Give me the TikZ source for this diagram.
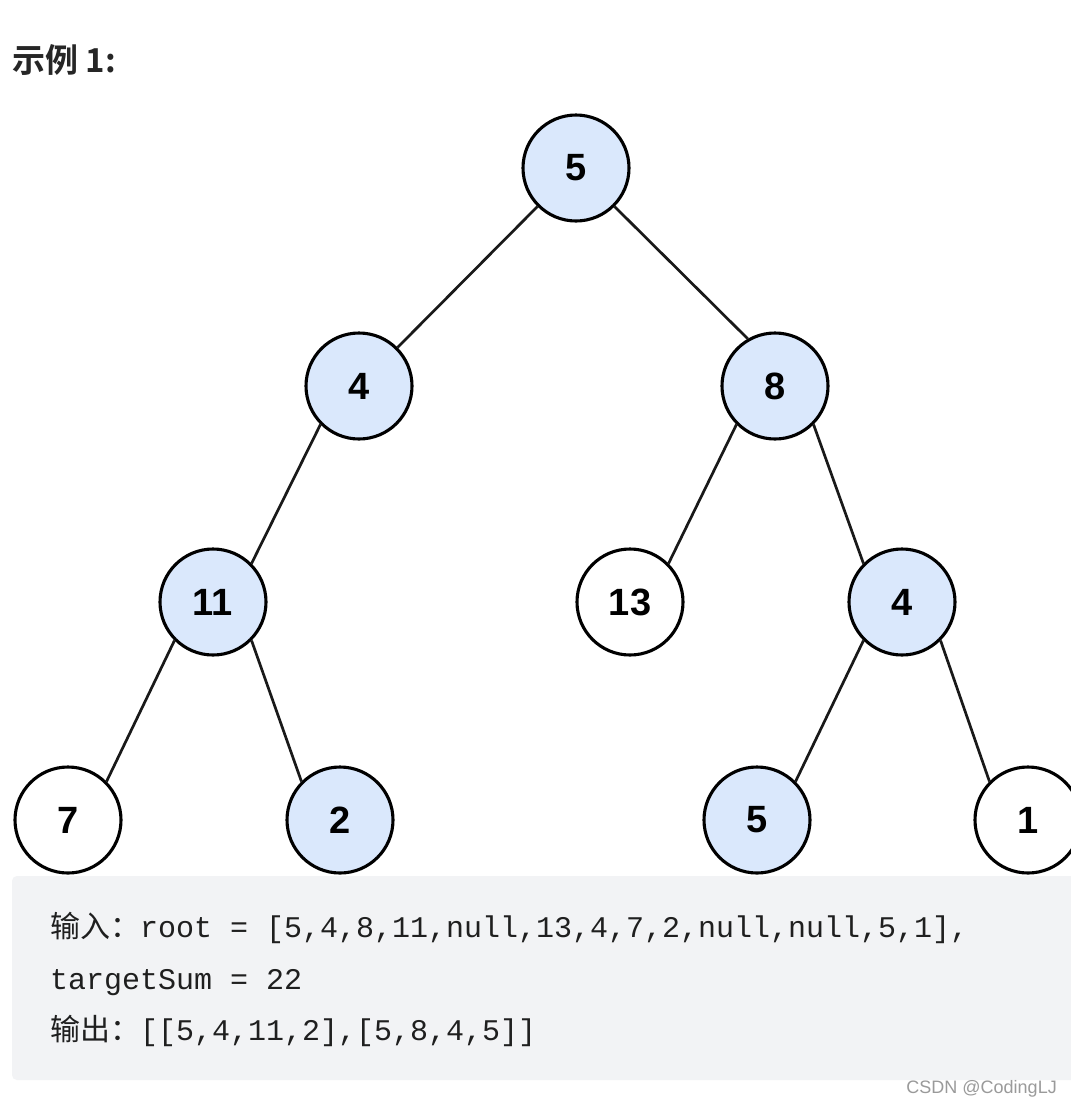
\documentclass[tikz,border=0pt]{standalone}
\usepackage{fontspec}
\setmainfont{Liberation Sans}
\newfontfamily\cjk{Noto Sans CJK SC}
\newfontfamily\cjkb{Noto Sans CJK SC Bold}
\newfontfamily\monof{Liberation Mono}
\definecolor{nodeblue}{HTML}{DAE8FC}
\definecolor{codebg}{HTML}{F2F3F5}
\definecolor{titlegray}{HTML}{262626}
\definecolor{codetext}{HTML}{1F1F1F}
\definecolor{wmgray}{HTML}{9A9A9A}
\begin{document}
\begin{tikzpicture}[x=1pt,y=-1pt,
  tnode/.style={circle,draw=black,line width=3.1pt,minimum size=106pt,inner sep=0pt,
    font=\fontsize{38}{40}\selectfont\bfseries},
  hl/.style={tnode,fill=nodeblue},
  pl/.style={tnode,fill=white},
  edge/.style={line width=2.7pt,draw=black!90},
  codeline/.style={anchor=base west,inner sep=0pt,text=codetext,
    font=\fontsize{30}{32}\selectfont\monof}
]
\useasboundingbox (0,0) rectangle (1071,1106);
\clip (0,0) rectangle (1071,1106);
\fill[white] (0,0) rectangle (1071,1106);
% title
\node[anchor=base west,inner sep=0pt,text=titlegray,font=\fontsize{33}{36}\selectfont\cjkb] (title) at (12,72) {示例 1:};
% nodes
\node[hl] (n5) at (576,168) {5};
\node[hl] (n4) at (359,386) {4};
\node[hl] (n8) at (775,386) {8};
\node[hl] (n11) at (213,602) {11};
\node[pl] (n13) at (630,602) {13};
\node[hl] (n4b) at (902,602) {4};
\node[pl] (n7) at (68,820) {7};
\node[hl] (n2) at (340,820) {2};
\node[hl] (n5b) at (757,820) {5};
\node[pl] (n1) at (1028,820) {1};
% edges
\draw[edge] (n5.south west) -- (n4.north east);
\draw[edge] (n5.south east) -- (n8.120);
\draw[edge] (n4.south west) -- (n11.north east);
\draw[edge] (n8.south west) -- (n13.north east);
\draw[edge] (n8.south east) -- (n4b.north west);
\draw[edge] (n11.south west) -- (n7.north east);
\draw[edge] (n11.south east) -- (n2.north west);
\draw[edge] (n4b.south west) -- (n5b.north east);
\draw[edge] (n4b.south east) -- (n1.north west);
% code box
\fill[codebg,rounded corners=5pt] (12,876) rectangle (1090,1080);
\node[codeline] (l1) at (50,937) {{\cjk 输入：}root = [5,4,8,11,null,13,4,7,2,null,null,5,1],};
\node[codeline] (l2) at (50,989) {targetSum = 22};
\node[codeline] (l3) at (50,1040) {{\cjk 输出：}[[5,4,11,2],[5,8,4,5]]};
% watermark
\node[anchor=base east,inner sep=0pt,text=wmgray,font=\fontsize{18}{20}\selectfont] (wm) at (1057,1093) {CSDN @CodingLJ};
\end{tikzpicture}
\end{document}
